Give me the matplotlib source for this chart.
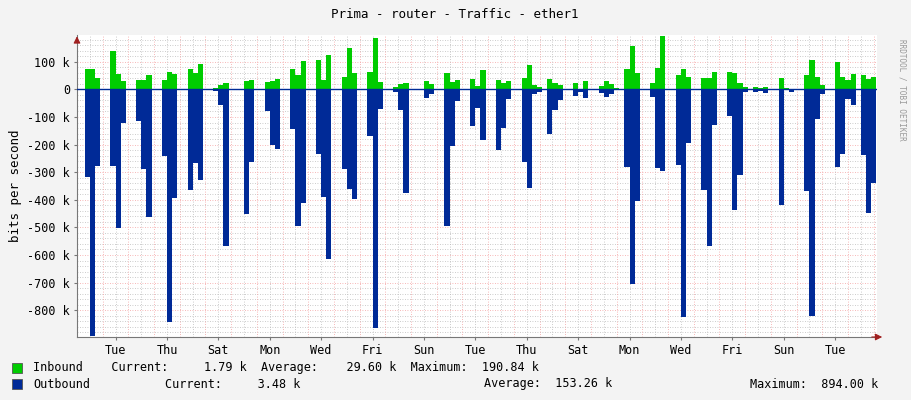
import numpy as np
import matplotlib
matplotlib.use("Agg")
import matplotlib.pyplot as plt
from matplotlib.patches import Rectangle

# per-day bin values (k bits/s), 5 bins per day starting 0.3 day, 0.2 day wide
inbound = [
    [74, 74, 41, 0, 0], [139, 56, 30, 0, 0], [34, 34, 52, 0, 0], [34, 63, 56, 0, 0],
    [74, 60, 92, 0, 0], [5, 16, 23, 0, 0], [0, 30, 34, 0, 0], [27, 30, 37, 0, 0],
    [74, 53, 103, 0, 0], [106, 34, 124, 0, 0], [45, 150, 59, 0, 0], [63, 186, 27, 0, 0],
    [7, 19, 23, 0, 0], [0, 30, 19, 0, 0], [59, 27, 34, 0, 0], [37, 12, 70, 0, 0],
    [34, 23, 30, 0, 0], [41, 88, 16, 7, 0], [37, 23, 16, 0, 0], [23, 2, 30, 0, 0],
    [12, 30, 19, 5, 0], [74, 157, 59, 0, 0], [23, 77, 193, 0, 0], [52, 74, 45, 0, 0],
    [41, 41, 63, 0, 0], [63, 59, 23, 8, 0], [8, 5, 8, 0, 0], [41, 5, 2, 0, 0],
    [52, 106, 45, 16, 0], [0, 99, 45, 34, 56], [0, 52, 37, 45, 0],
]
outbound = [
    [-317, -894, -277, 0, 0], [-277, -501, -121, 0, 0], [-114, -289, -461, 0, 0], [-242, -842, -394, 0, 0],
    [-365, -268, -329, 0, 0], [-5, -57, -568, 0, 0], [0, -452, -263, 0, 0], [-77, -202, -215, 0, 0],
    [-145, -494, -413, 0, 0], [-233, -389, -614, 0, 0], [-288, -360, -396, 0, 0], [-168, -864, -70, 0, 0],
    [-8, -75, -374, 0, 0], [0, -30, -18, 0, 0], [-494, -204, -41, 0, 0], [-132, -66, -182, 0, 0],
    [-219, -139, -34, 0, 0], [-262, -356, -18, -8, 0], [-161, -75, -37, 0, 0], [-23, -8, -30, 0, 0],
    [-12, -27, -15, 0, 0], [-280, -705, -403, 0, 0], [-27, -284, -295, 0, 0], [-273, -826, -193, 0, 0],
    [-364, -567, -128, 0, 0], [-95, -436, -309, -8, 0], [-8, -5, -12, 0, 0], [-418, -4, -8, 0, 0],
    [-367, -820, -108, -16, 0], [0, -280, -233, -34, -56], [0, -238, -447, -338, 0],
]
day_labels = ["Tue", "Thu", "Sat", "Mon", "Wed", "Fri", "Sun", "Tue",
              "Thu", "Sat", "Mon", "Wed", "Fri", "Sun", "Tue"]

BIN0, BINW, NB = 0.3, 0.2, 5
xs, vin, vout = [0.0], [0.0], [0.0]
for d in range(len(inbound)):
    for k in range(NB):
        xs.append(d + BIN0 + k * BINW)
        vin.append(inbound[d][k] * 1000)
        vout.append(outbound[d][k] * 1000)
xs.append(31.15); vin.append(0); vout.append(0)
xs = np.array(xs); vin = np.array(vin); vout = np.array(vout)

fig = plt.figure(figsize=(9.11, 4.0), dpi=100, facecolor="#F3F3F3")
ax = fig.add_axes([77/911, 63/400, 800/911, 302/400])
ax.set_facecolor("white")
XMAX = 31.13
ax.set_xlim(0, XMAX)
ax.set_ylim(-897000, 197000)

mono = "DejaVu Sans Mono"
# grids
for v in np.arange(-880000, 197000, 20000):
    if v % 100000:
        ax.axhline(v, color="#BBBBBB", lw=0.6, ls=(0, (1, 2)), zorder=0)
for v in range(-800000, 197000, 100000):
    ax.axhline(v, color="#F4A0A0", lw=0.6, ls=(0, (1, 2)), zorder=0)
for d in range(32):
    ax.axvline(d + 0.5, color="#BBBBBB", lw=0.6, ls=(0, (1, 2)), zorder=0)
    ax.axvline(d, color="#F4A0A0", lw=0.6, ls=(0, (1, 2)), zorder=0)

ax.fill_between(xs, 0, vin, step="post", color="#00CC00", lw=0, zorder=2)
ax.fill_between(xs, 0, vout, step="post", color="#002A97", lw=0, zorder=2)
ax.axhline(0, color="#002A97", lw=1, zorder=3)

yt = list(range(-800000, 101000, 100000))
ax.set_yticks(yt)
ax.set_yticklabels([("0" if v == 0 else f"{v//1000} k") for v in yt], family=mono, fontsize=8.5)
ax.set_xticks([1.5 + 2 * i for i in range(len(day_labels))])
ax.set_xticklabels(day_labels, family=mono, fontsize=8.5)
ax.tick_params(length=2, color="#777777", pad=3)
for s in ["top", "right"]:
    ax.spines[s].set_visible(False)
for s in ["left", "bottom"]:
    ax.spines[s].set_color("#777777")
ax.annotate("", xy=(0, 1.005), xytext=(0, 0.97), xycoords="axes fraction",
            arrowprops=dict(arrowstyle="-|>", color="#A02020", lw=0.8))
ax.annotate("", xy=(1.01, 0), xytext=(0.99, 0), xycoords="axes fraction",
            arrowprops=dict(arrowstyle="-|>", color="#A02020", lw=0.8))

ax.set_ylabel("bits per second", family=mono, fontsize=9)
fig.text(455/911, 1 - 14/400, "Prima - router - Traffic - ether1", ha="center", va="center",
         family=mono, fontsize=9)
fig.text(902/911, 1 - 90/400, "RRDTOOL / TOBI OETIKER", rotation=270, ha="center", va="center",
         family=mono, fontsize=5.5, color="#999999")

for yy, col in [(368, "#00CC00"), (384, "#002A97")]:
    fig.patches.append(Rectangle((12/911, 1 - (yy + 5)/400), 10/911, 10/400,
                                 transform=fig.transFigure, facecolor=col, edgecolor="#555555", lw=0.6))
fig.text(33/911, 1 - 368/400, "Inbound    Current:     1.79 k  Average:    29.60 k  Maximum:  190.84 k",
         va="center", family=mono, fontsize=8.5)
fig.text(33/911, 1 - 384/400, "Outbound", va="center", family=mono, fontsize=8.5)
fig.text(165/911, 1 - 384/400, "Current:     3.48 k", va="center", family=mono, fontsize=8.5)
fig.text(484/911, 1 - 384/400, "Average:  153.26 k", va="center", family=mono, fontsize=8.5)
fig.text(750/911, 1 - 384/400, "Maximum:  894.00 k", va="center", family=mono, fontsize=8.5)

fig.savefig("out.png", dpi=100, facecolor=fig.get_facecolor())
